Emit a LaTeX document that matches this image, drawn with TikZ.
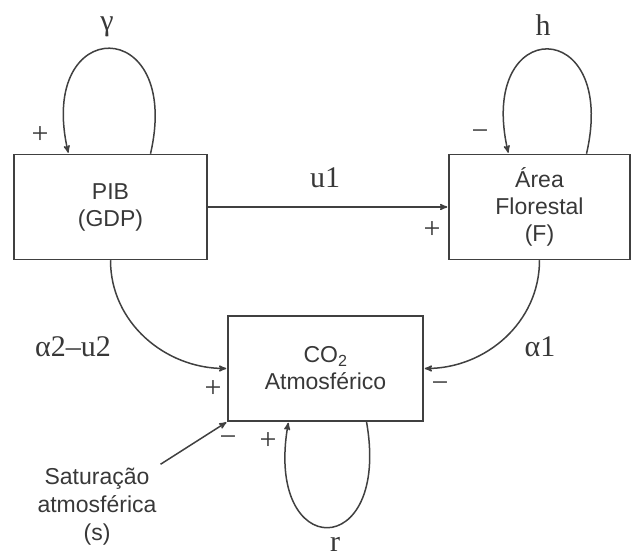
\documentclass[tikz,border=0pt]{standalone}
\usepackage{fontspec}
\setmainfont{Liberation Sans}
\newfontfamily\timesfont{Liberation Serif}
\usepackage{tikz}
\usetikzlibrary{arrows}
\definecolor{linegray}{gray}{0.25}
\definecolor{textgray}{gray}{0.22}

\begin{document}
\begin{tikzpicture}[->,>=stealth',shorten >=1pt,auto,x=1pt,y=1pt,
                    line width=1.5pt,draw=linegray]
  \tikzstyle{block}=[draw=linegray,rectangle,minimum height=105pt,align=center,
                     text=textgray,font=\fontsize{23}{27}\selectfont]
  \tikzstyle{coef}=[text=textgray,font=\timesfont\fontsize{30}{34}\selectfont]
  \tikzstyle{sign}=[text=textgray,font=\timesfont\fontsize{30}{32}\selectfont]

  \useasboundingbox (0,0) rectangle (632,559);

  \node[block,minimum width=193pt] (pib)  at (110.5,352)  {PIB\\(GDP)};
  \node[block,minimum width=181pt] (area) at (539.5,352)  {Área\\Florestal\\(F)};
  \node[block,minimum width=195pt] (co2)  at (325.5,190.5) {CO\textsubscript{2}\\Atmosférico};
  \node[text=textgray,align=center,font=\fontsize{23}{28}\selectfont]
                                   (sat)  at (97,52)      {Saturação\\atmosférica\\(s)};

  \node[coef] (gamma) at (107,532) {γ};
  \node[coef] (h)     at (543,534) {h};
  \node[coef] (u1)    at (325,381) {u1};
  \node[coef] (a2u2)  at (73,212)  {α2–u2};
  \node[coef] (a1)    at (540,212) {α1};
  \node[coef] (r)     at (335,15)  {r};

  \node[sign] (s1) at (40,424)  {+};
  \node[sign] (s2) at (480,424) {−};
  \node[sign] (s3) at (432,329) {+};
  \node[sign] (s4) at (213,170) {+};
  \node[sign] (s5) at (440,172) {−};
  \node[sign] (s6) at (228,118) {−};
  \node[sign] (s7) at (268,118) {+};

  \path ([xshift=40pt]pib.north)  edge [out=77,in=103,looseness=4.5]   ([xshift=-42pt]pib.north)
        ([xshift=47pt]area.north) edge [out=77,in=103,looseness=4.7]   ([xshift=-31pt]area.north)
        ([xshift=41pt]co2.south)  edge [out=-80,in=-100,looseness=4.7] ([xshift=-37pt]co2.south)
        (pib)                     edge []                              (area)
        (pib.south)               edge [out=-90,in=180]                (co2.west)
        (area.south)              edge [out=-90,in=0]                  (co2.east)
        (sat.north east)          edge []                              (co2.south west);
\end{tikzpicture}
\end{document}
